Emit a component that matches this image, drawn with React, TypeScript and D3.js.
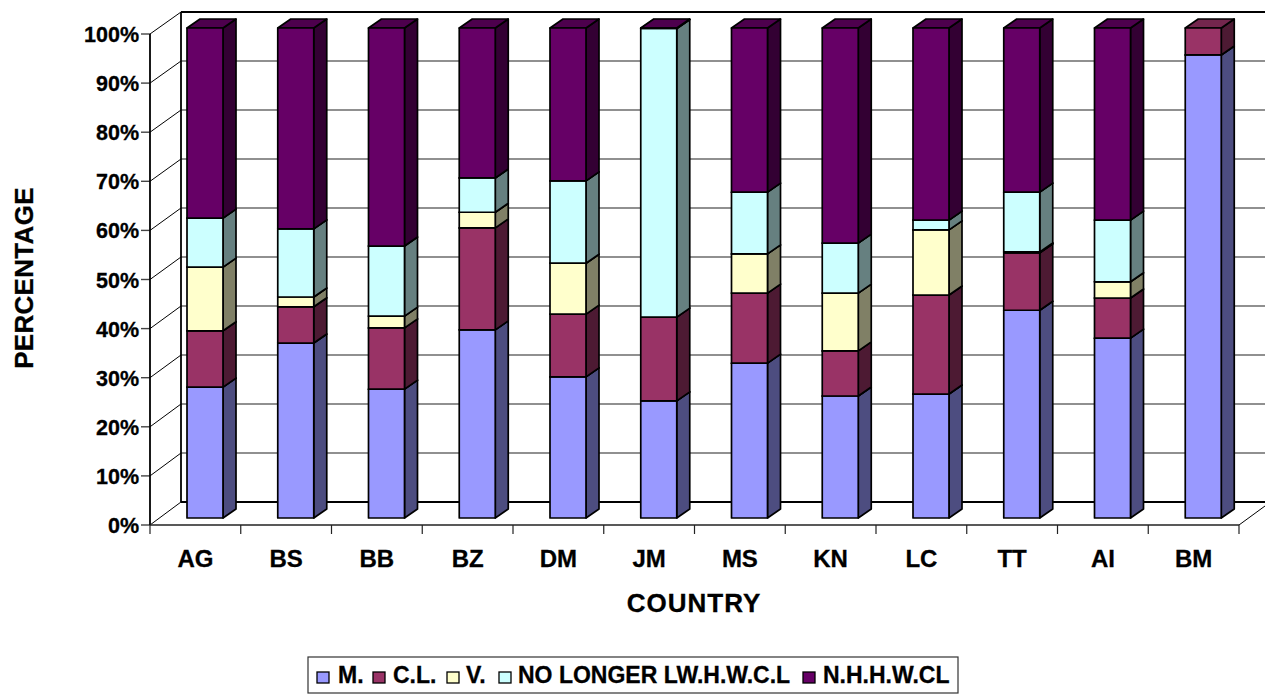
import React from "react";
import * as d3 from "d3";

const categories = ["AG","BS","BB","BZ","DM","JM","MS","KN","LC","TT","AI","BM"];
const seriesNames = ["M.","C.L.","V.","NO LONGER LW.H.W.C.L","N.H.H.W.CL"];
const mValues = [26.7,35.7,26.3,38.4,28.8,23.9,31.6,24.9,25.3,42.4,36.7,94.5];
const clValues = [11.5,7.4,12.5,20.8,12.8,17.1,14.3,9.2,20.2,11.7,8.2,5.5];
const vValues = [13.0,2.0,2.4,3.2,10.4,0,8.0,11.8,13.3,0.2,3.3,0];
const nlValues = [10.0,13.9,14.3,7.0,16.8,58.9,12.6,10.2,2.0,12.2,12.6,0];
const nhValues = [38.8,41.0,44.5,30.6,31.2,0.1,33.5,43.9,39.2,33.5,39.2,0];
const seriesValues = [mValues,clValues,vValues,nlValues,nhValues];
const colors = ["#9999FF","#993366","#FFFFCC","#CCFFFF","#660066"];
const yTicks = d3.range(0,101,10);
const FONT = "'Liberation Sans', Arial, sans-serif";

const rows = categories.map((c,i)=>{
  const r:any = {c};
  seriesNames.forEach((s,k)=>{ r[s]=seriesValues[k][i]; });
  return r;
});
const stacked = d3.stack().keys(seriesNames)(rows);

const x = d3.scaleBand().domain(categories).range([150,1239]);
const yFront = d3.scaleLinear().domain([0,100]).range([525,34]);
const yBack = d3.scaleLinear().domain([0,100]).range([502,12]);
const yBar = d3.scaleLinear().domain([0,100]).range([518,28]);
const barDx = 13, barDy = 9, barW = 36, barOff = 37;

const shade = (c:string,f:number)=>{ const r=d3.rgb(c); return d3.rgb(r.r*f,r.g*f,r.b*f).formatHex(); };
const pts = (a:number[][])=>a.map(p=>p.join(",")).join(" ");

export default function App(){
  const legendItems = [[317,"M.",338],[373,"C.L.",393],[447,"V.",466],[499,"NO LONGER LW.H.W.C.L",518],[803,"N.H.H.W.CL",823]] as [number,string,number][];
  return (
    <svg width={1265} height={694} style={{position:"absolute",left:0,top:0,display:"block",background:"#fff"}} fontFamily={FONT} fontWeight="bold">
      {yTicks.map(t=>(
        <g key={t} stroke="#000" strokeWidth={1}>
          <line x1={181} x2={1265} y1={yBack(t)} y2={yBack(t)} strokeWidth={t===0||t===100?1.8:1.1} stroke={t===100||t===0?"#000":"#222"}/>
          <line x1={150} x2={181} y1={yFront(t)} y2={yBack(t)}/>
          <line x1={141} x2={150} y1={yFront(t)} y2={yFront(t)} strokeWidth={1.4} stroke="#444"/>
        </g>
      ))}
      <line x1={181} x2={181} y1={12} y2={502} stroke="#000" strokeWidth={1.8}/>
      <line x1={150} x2={150} y1={34} y2={525} stroke="#000" strokeWidth={1.8}/>
      <line x1={150} x2={1239} y1={525} y2={525} stroke="#222" strokeWidth={1.5}/>
      <line x1={1239} x2={1265} y1={525} y2={506} stroke="#000" strokeWidth={1}/>
      {[...categories.map(c=>x(c)!),1239].map(v=>(
        <line key={v} x1={v} x2={v} y1={525} y2={534} stroke="#222" strokeWidth={1.2}/>
      ))}
      {categories.map((c,i)=>{
        const x0 = x(c)!+barOff, x1 = x0+barW;
        return <g key={c} stroke="#000" strokeWidth={1.7} strokeLinejoin="round">
          {stacked.map((s,k)=>{
            const [a,b] = s[i];
            if(b-a<=0) return null;
            const ya=yBar(a), yb=yBar(b), col=colors[k];
            return <g key={k}>
              <polygon points={pts([[x1,ya],[x1+barDx,ya-barDy],[x1+barDx,yb-barDy],[x1,yb]])} fill={shade(col,0.5)}/>
              <polygon points={pts([[x0,yb],[x0+barDx,yb-barDy],[x1+barDx,yb-barDy],[x1,yb]])} fill={shade(col,0.75)}/>
              <rect x={x0} y={yb} width={barW} height={ya-yb} fill={col}/>
            </g>;
          })}
        </g>;
      })}
      <g stroke="#000" strokeWidth={0.3}>
        {yTicks.map(t=>(
          <text key={t} x={139} y={yFront(t)+8} textAnchor="end" fontSize={21.5}>{t}%</text>
        ))}
        {categories.map(c=>(
          <text key={c} x={x(c)!+x.bandwidth()/2} y={567} textAnchor="middle" fontSize={24}>{c}</text>
        ))}
        <text x={694} y={612} textAnchor="middle" fontSize={26} letterSpacing={1}>COUNTRY</text>
        <text transform="translate(33,278) rotate(-90)" textAnchor="middle" fontSize={26} letterSpacing={0.3}>PERCENTAGE</text>
      </g>
      <rect x={308} y={657} width={650} height={36} fill="#fff" stroke="#333" strokeWidth={1.2}/>
      {legendItems.map(([sx,l,tx],k)=>(
        <g key={l}>
          <rect x={sx} y={672} width={12} height={11} fill={colors[k]} stroke="#000" strokeWidth={1.3}/>
          <text x={tx} y={683} fontSize={23} stroke="#000" strokeWidth={0.3}>{l}</text>
        </g>
      ))}
    </svg>
  );
}
